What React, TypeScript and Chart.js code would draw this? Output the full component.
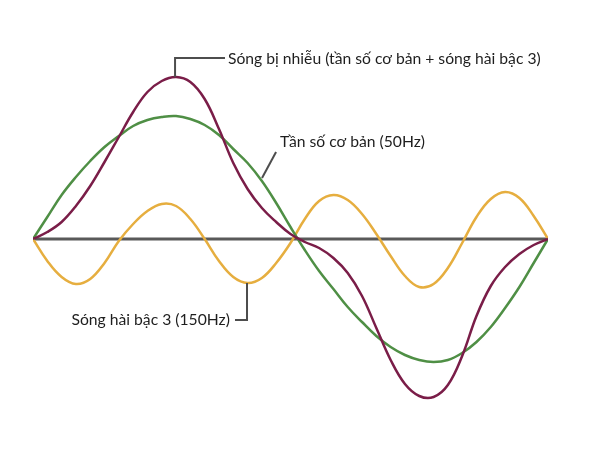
import React, { useEffect, useRef } from "react";
import { Chart, registerables } from "chart.js";

Chart.register(...registerables);

// Phase angle (degrees) of the 50 Hz fundamental
const phaseDeg = [0, 10, 20, 30, 40, 50, 60, 70, 80, 90, 100, 110, 120, 130, 140, 150, 160, 170, 180, 190, 200, 210, 220, 230, 240, 250, 260, 270, 280, 290, 300, 310, 320, 330, 340, 350, 360];

// Fundamental (50Hz) – green
const fundamental = [0, 22, 44, 62, 78, 92, 103, 113, 119, 122, 123, 120, 114, 104, 90, 76, 58, 36, 12, -11, -32, -50, -68, -83, -97, -108, -116, -121, -123, -121, -114, -103, -88, -69, -48, -24, 0];

// 3rd harmonic (150Hz) – orange
const harmonic3 = [0, -22, -38, -45, -40, -24, -2, 15, 28, 35, 33, 20, 0, -22, -38, -44, -39, -24, -4, 20, 38, 44, 39, 25, 5, -17, -37, -48, -45, -29, -4, 22, 40, 47, 41, 23, 0];

// Distorted wave – maroon
const distorted = [0, 7, 17, 33, 53, 77, 102, 127, 147, 158, 162, 157, 140, 110, 76, 50, 31, 17, 5, -3, -9, -19, -34, -57, -89, -121, -145, -157, -158, -146, -117, -77, -47, -28, -15, -6, 0];

// Baseline (time axis)
const axisX = [0, 360];
const axisY = [0, 0];

const labelDistorted = "Sóng bị nhiễu (tần số cơ bản + sóng hài bậc 3)";
const labelFundamental = "Tần số cơ bản (50Hz)";
const labelHarmonic = "Sóng hài bậc 3 (150Hz)";

const FONT = "15.7px Lato, 'Noto Sans', sans-serif";

// Callouts in data units: leader polyline + text anchor
const callouts = [
  { text: labelDistorted, path: [[99.3, 162], [99.3, 181], [134.2, 181]], tx: 136.3, ty: 180, align: "left" as CanvasTextAlign },
  { text: labelFundamental, path: [[160.1, 61], [169.9, 87]], tx: 172.7, ty: 97, align: "left" as CanvasTextAlign },
  { text: labelHarmonic, path: [[149.6, -44], [149.6, -81], [141.2, -81]], tx: 137.6, ty: -81, align: "right" as CanvasTextAlign },
];

const calloutPlugin = {
  id: "callouts",
  afterDatasetsDraw(chart: any) {
    const { ctx, scales } = chart;
    const xs = scales.x;
    const ys = scales.y;
    ctx.save();
    for (const c of callouts) {
      ctx.beginPath();
      c.path.forEach((p, i) => {
        const px = xs.getPixelForValue(p[0]);
        const py = ys.getPixelForValue(p[1]);
        if (i === 0) ctx.moveTo(px, py);
        else ctx.lineTo(px, py);
      });
      ctx.strokeStyle = "#4d4d4d";
      ctx.lineWidth = 2;
      ctx.stroke();
      ctx.font = FONT;
      ctx.fillStyle = "#1e1e1e";
      ctx.textAlign = c.align;
      ctx.textBaseline = "middle";
      ctx.fillText(c.text, xs.getPixelForValue(c.tx), ys.getPixelForValue(c.ty));
    }
    ctx.restore();
  },
};

const toPoints = (xs: number[], ys: number[]) => xs.map((x, i) => ({ x, y: ys[i] }));

export default function App() {
  const ref = useRef<HTMLCanvasElement | null>(null);
  useEffect(() => {
    if (!ref.current) return;
    const chart = new Chart(ref.current, {
      type: "line",
      data: {
        datasets: [
          {
            label: "axis",
            data: toPoints(axisX, axisY),
            borderColor: "#595959",
            borderWidth: 3,
            pointRadius: 0,
            order: 4,
          },
          {
            label: labelHarmonic,
            data: toPoints(phaseDeg, harmonic3),
            borderColor: "#e6ae3f",
            borderWidth: 2.5,
            pointRadius: 0,
            tension: 0.4,
            order: 3,
          },
          {
            label: labelFundamental,
            data: toPoints(phaseDeg, fundamental),
            borderColor: "#4f8f45",
            borderWidth: 2.5,
            pointRadius: 0,
            tension: 0.4,
            order: 2,
          },
          {
            label: labelDistorted,
            data: toPoints(phaseDeg, distorted),
            borderColor: "#7a1d48",
            borderWidth: 2.5,
            pointRadius: 0,
            tension: 0.4,
            order: 1,
          },
        ],
      },
      options: {
        animation: false,
        responsive: false,
        layout: { padding: { left: 33, right: 52, top: 39, bottom: 11 } },
        plugins: { legend: { display: false }, tooltip: { enabled: false } },
        scales: {
          x: { type: "linear", min: 0, max: 360, display: false },
          y: { type: "linear", min: -200, max: 200, display: false },
        },
      },
      plugins: [calloutPlugin],
    });
    return () => chart.destroy();
  }, []);
  return (
    <div style={{ position: "fixed", left: 0, top: 0, width: 600, height: 450, background: "#ffffff" }}>
      <canvas ref={ref} width={600} height={450} />
    </div>
  );
}
